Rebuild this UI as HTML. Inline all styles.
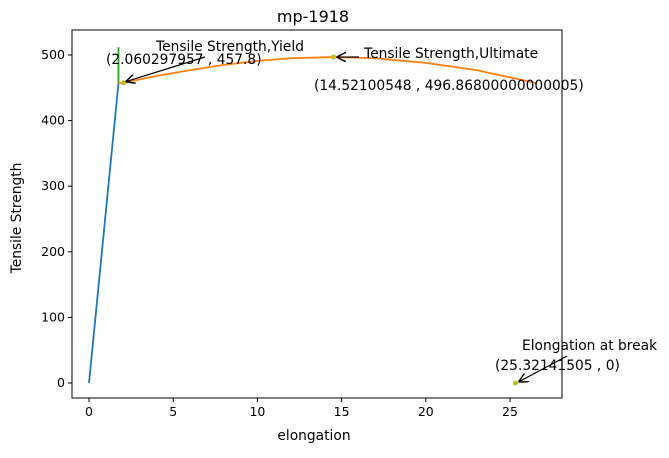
<!DOCTYPE html>
<html><head><meta charset="utf-8"><style>
body{margin:0;background:#fff;font-family:"Liberation Sans","DejaVu Sans",sans-serif;}
svg text{font-family:"DejaVu Sans","Liberation Sans",sans-serif;}
</style></head><body>
<svg id="chart" width="669" height="453" xmlns="http://www.w3.org/2000/svg">
<defs><marker id="ah" viewBox="0 0 10 10" refX="10" refY="5" markerWidth="8" markerHeight="8" orient="auto-start-reverse"><path d="M0,0 L10,5 L0,10" fill="none" stroke="#000" stroke-width="1.5"/></marker></defs>
<g id="plot"></g>
</svg>
<script>
const xTicks=[0,5,10,15,20,25];
const yTicks=[0,100,200,300,400,500];
const elasticX=[0,1.75];
const elasticY=[0,457];
const yieldLineX=[1.75,1.75];
const yieldLineY=[457,512];
const plasticX=[1.75,2.06,4,6,8,10,12,14.52,17,20,23,26.6];
const plasticY=[457,457.8,468,477,485,491,495,496.87,495,488,477,457];
const keyX=[2.060297957,14.52100548,25.32141505];
const keyY=[457.8,496.868,0];

const L=72,R=562,T=30,B=398;
const sx=v=>89+v*16.84;
const sy=v=>383-v*0.656;
const ns="http://www.w3.org/2000/svg";
const g=document.getElementById('plot');
function el(tag,attrs,name,text){const e=document.createElementNS(ns,tag);for(const k in attrs)e.setAttribute(k,attrs[k]);


if(text!==undefined)e.textContent=text;g.appendChild(e);return e;}
function poly(xs,ys,color,name){el('polyline',{points:xs.map((x,i)=>sx(x)+','+sy(ys[i])).join(' '),fill:'none',stroke:color,'stroke-width':1.8,'stroke-linejoin':'round'},name);}
el('rect',{x:L,y:T,width:R-L,height:B-T,fill:'none',stroke:'#000','stroke-width':1},'plot-frame');
xTicks.forEach(t=>{const x=sx(t);el('line',{x1:x,y1:B,x2:x,y2:B+4,stroke:'#000'},'x-tick');
el('text',{x:x,y:B+18,'font-size':12.5,'text-anchor':'middle'},'x-tick-label',String(t));});
yTicks.forEach(t=>{const y=sy(t);el('line',{x1:L-4,y1:y,x2:L,y2:y,stroke:'#000'},'y-tick');
el('text',{x:L-7,y:y+4,'font-size':12.5,'text-anchor':'end'},'y-tick-label',String(t));});
el('text',{x:314,y:440,'font-size':13.8,'text-anchor':'middle'},'x-axis-title','elongation');
el('text',{x:21,y:218,'font-size':13.8,'text-anchor':'middle',transform:'rotate(-90 21 218)'},'y-axis-title','Tensile Strength');
el('text',{x:313,y:22,'font-size':16,'text-anchor':'middle'},'chart-title','mp-1918');
poly(elasticX,elasticY,'#1f77b4','elastic-line');
poly(yieldLineX,yieldLineY,'#2ca02c','yield-line');
poly(plasticX,plasticY,'#ff7f0e','plastic-curve');
keyX.forEach((x,i)=>el('circle',{cx:sx(x),cy:sy(keyY[i]),r:2.5,fill:'#bcbd22'},'key-point'));
el('line',{x1:205,y1:57,x2:sx(keyX[0])+2,y2:sy(keyY[0])-1,stroke:'#000','stroke-width':1.2,'marker-end':'url(#ah)'},'yield-arrow');
el('text',{x:156,y:51,'font-size':13.8},'yield-label','Tensile Strength,Yield');
el('text',{x:106,y:64,'font-size':13.8},'yield-value','(2.060297957 , 457.8)');
el('line',{x1:359,y1:57,x2:sx(keyX[1])+3,y2:sy(keyY[1]),stroke:'#000','stroke-width':1.2,'marker-end':'url(#ah)'},'ultimate-arrow');
el('text',{x:364,y:58,'font-size':13.8},'ultimate-label','Tensile Strength,Ultimate');
el('text',{x:314,y:90,'font-size':13.8},'ultimate-value','(14.52100548 , 496.86800000000005)');
el('line',{x1:567,y1:356,x2:sx(keyX[2])+3,y2:sy(keyY[2])-1,stroke:'#000','stroke-width':1.2,'marker-end':'url(#ah)'},'break-arrow');
el('text',{x:522,y:350,'font-size':13.8},'break-label','Elongation at break');
el('text',{x:495,y:370,'font-size':13.8},'break-value','(25.32141505 , 0)');
</script>
</body></html>
